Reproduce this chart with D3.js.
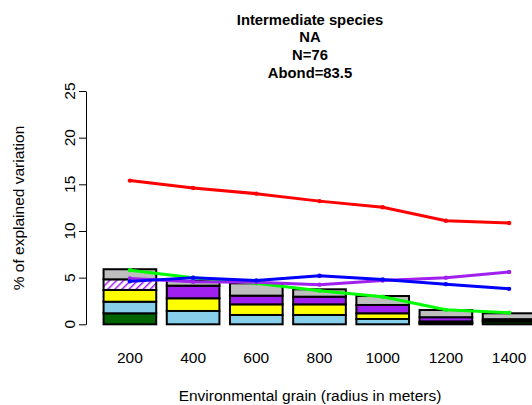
<!DOCTYPE html>
<html>
<head>
<meta charset="utf-8">
<script src="https://cdn.jsdelivr.net/npm/d3@7"></script>
<style>
  body { margin: 0; background: #fff; }
  svg text { font-family: "Liberation Sans", Arial, sans-serif; }
</style>
</head>
<body>
<svg id="chart" width="532" height="405"></svg>
<script>
// grain categories (radius in meters)
const grains = ["200", "400", "600", "800", "1000", "1200", "1400"];

// stacked bar parts, bottom to top
const darkgreenPart = [1.18, 0, 0, 0, 0, 0.08, 0.3];
const skybluePart   = [1.24, 1.43, 1.0, 1.0, 0.57, 0.05, 0];
const yellowPart    = [1.26, 1.36, 1.14, 1.14, 0.61, 0.18, 0.05];
const hatchedPart   = [1.14, 0, 0, 0, 0, 0, 0];
const purplePart    = [0, 1.35, 0.93, 0.82, 0.89, 0.45, 0.2];
const grayPart      = [1.08, 0.5, 1.32, 0.79, 0.96, 0.77, 0.63];

// line series
const redLine    = [15.4, 14.6, 14.0, 13.2, 12.55, 11.1, 10.85];
const blueLine   = [4.6, 5.0, 4.7, 5.2, 4.8, 4.3, 3.8];
const purpleLine = [4.9, 4.55, 4.5, 4.25, 4.7, 5.0, 5.6];
const greenLine  = [5.8, 5.0, 4.4, 3.6, 2.95, 1.55, 1.25];

const yTicks = [0, 5, 10, 15, 20, 25];
const titleLines = ["Intermediate species", "NA", "N=76", "Abond=83.5"];

const svg = d3.select("#chart");

const defs = svg.append("defs");
const pat = defs.append("pattern")
    .attr("id", "hatch")
    .attr("patternUnits", "userSpaceOnUse")
    .attr("width", 5)
    .attr("height", 5)
    .attr("patternTransform", "rotate(45)");
pat.append("rect").attr("width", 5).attr("height", 5).attr("fill", "#fff");
pat.append("line")
    .attr("x1", 0).attr("y1", 0).attr("x2", 0).attr("y2", 5)
    .attr("stroke", "#A020F0").attr("stroke-width", 3);

const parts = [
    {vals: darkgreenPart, fill: "#006400"},
    {vals: skybluePart, fill: "#87CEEB"},
    {vals: yellowPart, fill: "#FFFF00"},
    {vals: hatchedPart, fill: "url(#hatch)"},
    {vals: purplePart, fill: "#A020F0"},
    {vals: grayPart, fill: "#BEBEBE"},
];

let x = d3.scaleBand()
    .domain(grains)
    .range([98.3, 540.7])
    .paddingInner(1 / 6)
    .paddingOuter(1 / 12);

let y = d3.scaleLinear()
    .domain([0, 25])
    .range([324.3, 91]);

// bars
grains.forEach((g, i) => {
    let base = 0;
    parts.forEach(p => {
        let v = p.vals[i];
        if (v > 0) {
            svg.append("rect")
                .attr("x", x(g))
                .attr("y", y(base + v))
                .attr("width", x.bandwidth())
                .attr("height", y(base) - y(base + v))
                .attr("fill", p.fill)
                .attr("stroke", "#000")
                .attr("stroke-width", 2);
        }
        base += v;
    });
});

// lines
const cx = g => x(g) + x.bandwidth() / 2;
const series = [
    {vals: redLine, color: "#FF0000"},
    {vals: greenLine, color: "#00FF00"},
    {vals: purpleLine, color: "#A020F0"},
    {vals: blueLine, color: "#0000FF"},
];
let line = d3.line()
    .x((d, i) => cx(grains[i]))
    .y(d => y(d));

series.forEach(s => {
    svg.append("path")
        .datum(s.vals)
        .attr("fill", "none")
        .attr("stroke", s.color)
        .attr("stroke-width", 3)
        .attr("d", line);
    svg.selectAll(null)
        .data(s.vals)
        .enter()
        .append("circle")
        .attr("cx", (d, i) => cx(grains[i]))
        .attr("cy", d => y(d))
        .attr("r", 2.2)
        .attr("fill", s.color);
});

// y axis
let yAxis = svg.append("g")
    .attr("transform", "translate(86,0)")
    .call(d3.axisLeft(y).tickValues(yTicks).tickSize(7).tickSizeOuter(0));
yAxis.select(".domain").attr("stroke", "#000").attr("stroke-width", 1);
yAxis.selectAll(".tick line").attr("stroke", "#000");
yAxis.selectAll(".tick text").remove();
yTicks.forEach(t => {
    svg.append("text")
        .attr("transform", `translate(75,${y(t)}) rotate(-90)`)
        .attr("text-anchor", "middle")
        .attr("font-size", "15.5px")
        .attr("fill", "#000")
        .text(t);
});

// x labels
grains.forEach(g => {
    svg.append("text")
        .attr("x", cx(g))
        .attr("y", 362.5)
        .attr("text-anchor", "middle")
        .attr("font-size", "15.5px")
        .text(g);
});

svg.append("text")
    .attr("x", 310)
    .attr("y", 400.5)
    .attr("text-anchor", "middle")
    .attr("font-size", "15.5px")
    .text("Environmental grain (radius in meters)");

svg.append("text")
    .attr("transform", "translate(23.5,208) rotate(-90)")
    .attr("text-anchor", "middle")
    .attr("font-size", "15.5px")
    .text("% of explained variation");

// title
titleLines.forEach((t, i) => {
    svg.append("text")
        .attr("x", 310)
        .attr("y", 24.5 + i * 17.7)
        .attr("text-anchor", "middle")
        .attr("font-size", "14.8px")
        .attr("font-weight", "bold")
        .text(t);
});
</script>
</body>
</html>
